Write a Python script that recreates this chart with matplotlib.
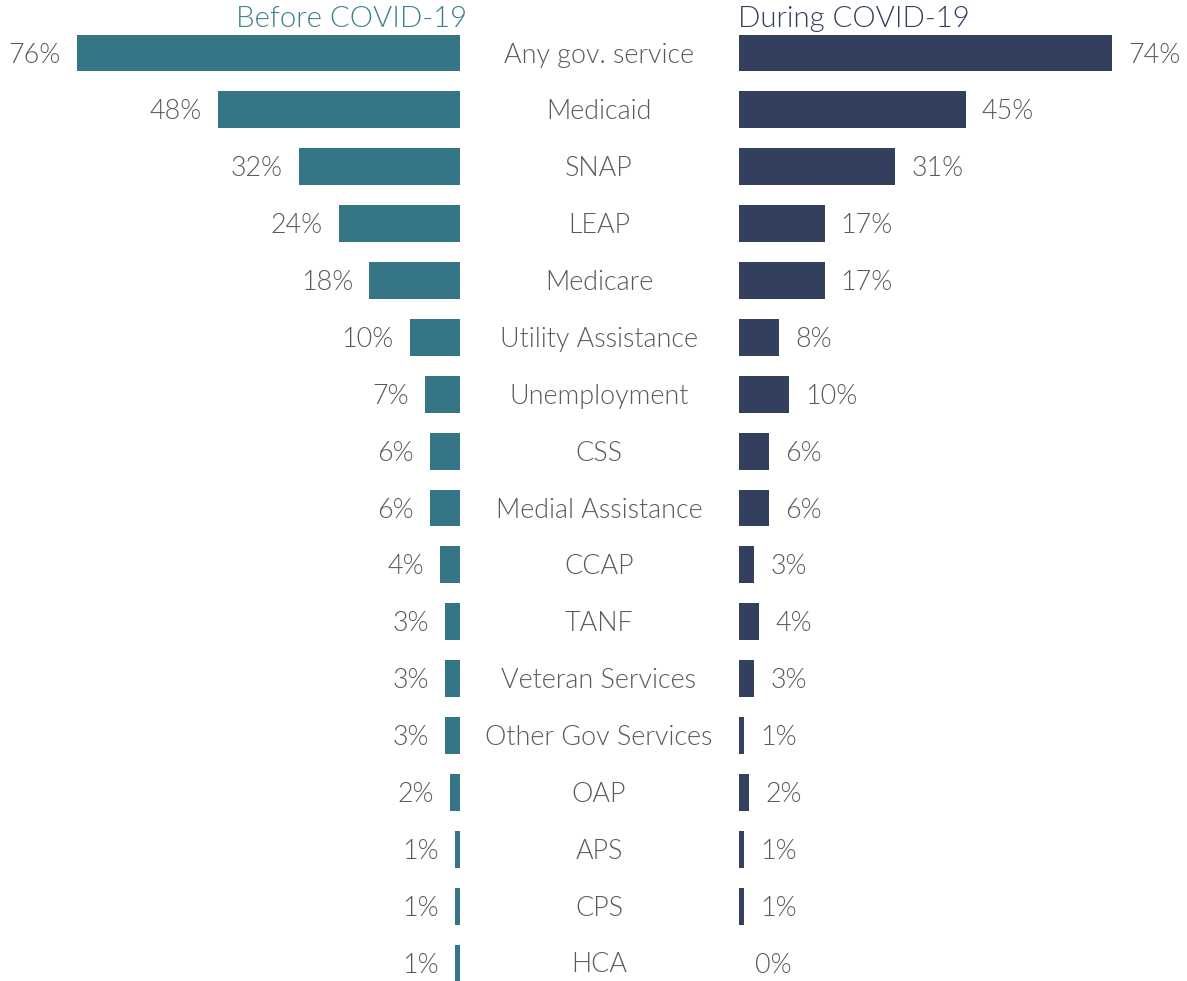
import matplotlib.pyplot as plt

# --- DATA ---
services = ["Any gov. service", "Medicaid", "SNAP", "LEAP", "Medicare",
            "Utility Assistance", "Unemployment", "CSS", "Medial Assistance",
            "CCAP", "TANF", "Veteran Services", "Other Gov Services", "OAP",
            "APS", "CPS", "HCA"]
before = [76, 48, 32, 24, 18, 10, 7, 6, 6, 4, 3, 3, 3, 2, 1, 1, 1]
during = [74, 45, 31, 17, 17, 8, 10, 6, 6, 3, 4, 3, 1, 2, 1, 1, 0]

TEAL = "#357585"
NAVY = "#32405E"
TEXT = "#595959"
WEIGHT = 300
LABEL_SIZE = 19.4

plt.rcParams["font.family"] = ["Lato", "DejaVu Sans"]

W, H = 1187, 981
fig = plt.figure(figsize=(W / 100, H / 100), dpi=100)

PX_PER_PCT = 5.04
ROW0, ROW_STEP = 53, 56.875
ylim = ((H - ROW0) / ROW_STEP, -ROW0 / ROW_STEP)

left_zero, right_zero = 460, 739
ax_l = fig.add_axes([0, 0, left_zero / W, 1])
ax_r = fig.add_axes([right_zero / W, 0, (W - right_zero) / W, 1])

ypos = list(range(len(services)))

ax_l.barh(ypos, before, height=0.65, color=TEAL)
ax_l.set_xlim(left_zero / PX_PER_PCT, 0)
ax_r.barh(ypos, during, height=0.65, color=NAVY)
ax_r.set_xlim(0, (W - right_zero) / PX_PER_PCT)

for ax in (ax_l, ax_r):
    ax.set_ylim(*ylim)
    ax.axis("off")

pad = 16 / PX_PER_PCT
shift = 2 / ROW_STEP  # nudge text down a touch
for y, v in zip(ypos, before):
    ax_l.text(v + pad, y + shift, f"{v}%", ha="right", va="center",
              fontsize=LABEL_SIZE, color=TEXT, fontweight=WEIGHT)
for y, v in zip(ypos, during):
    ax_r.text(v + pad, y + shift, f"{v}%", ha="left", va="center",
              fontsize=LABEL_SIZE, color=TEXT, fontweight=WEIGHT)

# category names sit in the gap between the two panels
for y, name in zip(ypos, services):
    fig.text(599 / W, 1 - (ROW0 + 2 + y * ROW_STEP) / H, name, ha="center",
             va="center", fontsize=LABEL_SIZE, color=TEXT, fontweight=WEIGHT)

fig.text(467 / W, 1 - 19 / H, "Before COVID-19", ha="right", va="center",
         fontsize=21.2, color="#3F808F", fontweight=WEIGHT)
fig.text(738 / W, 1 - 19 / H, "During COVID-19", ha="left", va="center",
         fontsize=21.2, color=NAVY, fontweight=WEIGHT)

fig.savefig("out.png", dpi=100, facecolor="white")
